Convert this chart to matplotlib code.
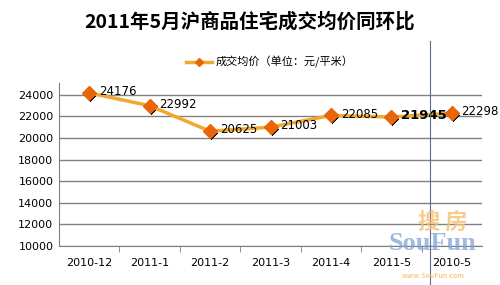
import matplotlib
matplotlib.use("Agg")
import matplotlib.pyplot as plt
import matplotlib.transforms as mtransforms
from matplotlib.lines import Line2D

plt.rcParams['font.family'] = ['Noto Sans CJK SC', 'DejaVu Sans']

categories = ["2010-12", "2011-1", "2011-2", "2011-3", "2011-4", "2011-5", "2010-5"]
values = [24176, 22992, 20625, 21003, 22085, 21945, 22298]
yticks = [10000, 12000, 14000, 16000, 18000, 20000, 22000, 24000]
title = "2011年5月沪商品住宅成交均价同环比"
legend_label = "成交均价（单位：元/平米）"

fig = plt.figure(figsize=(5, 2.85), dpi=100)
ax = fig.add_axes([0.118, 0.137, 0.846, 0.572])

x = list(range(len(categories)))
line_color = "#F0A830"
marker_color = "#E8650A"

# shadow of markers
shadow = mtransforms.offset_copy(ax.transData, fig=fig, x=3, y=-4, units='dots')
ax.plot(x, values, linestyle='none', marker=(2, 2, -45), markersize=6.5,
        markeredgecolor='black', markeredgewidth=2.2, transform=shadow, zorder=3)
ax.plot(x, values, color=line_color, linewidth=2.5, zorder=4)
ax.plot(x, values, linestyle='none', marker='D', markersize=7.5,
        markerfacecolor=marker_color, markeredgecolor=marker_color, zorder=5)

for i, v in enumerate(values):
    ax.annotate(str(v), (i, v), xytext=(7, 1), textcoords='offset points',
                ha='left', va='center', fontsize=9.5 if i == 5 else 8.5,
                family='DejaVu Sans',
                fontweight='bold' if i == 5 else 'normal', zorder=6)

ax.set_xlim(-0.5, len(categories) - 0.5)
ax.set_ylim(10000, 25100)
ax.set_yticks(yticks)
ax.set_yticklabels([str(t) for t in yticks], fontsize=8, family='DejaVu Sans')
ax.set_xticks(x)
ax.set_xticklabels(categories, fontsize=8, family='DejaVu Sans')
ax.set_xticks([i + 0.5 for i in range(len(categories) - 1)], minor=True)
ax.tick_params(axis='x', which='major', length=0, pad=9)
ax.tick_params(axis='x', which='minor', length=4, color='#808080')
ax.tick_params(axis='y', length=0, pad=4)
ax.grid(axis='y', color='#808080', linewidth=1)
ax.set_axisbelow(True)
for s in ['top', 'right']:
    ax.spines[s].set_visible(False)
for s in ['left', 'bottom']:
    ax.spines[s].set_color('#808080')

# vertical separator line
fig.add_artist(Line2D([430 / 500, 430 / 500], [1 - 41 / 285, 0], color='#5A6E8C', linewidth=0.8))

fig.text(0.5, 0.925, title, ha='center', va='center', fontsize=14, fontweight='bold')

# legend
fig.add_artist(Line2D([186 / 500, 212 / 500], [1 - 62 / 285] * 2, color=line_color, linewidth=2.5))
fig.add_artist(Line2D([199 / 500], [1 - 62 / 285], marker='D', markersize=4,
                      color=marker_color, linestyle='none'))
fig.text(216 / 500, 1 - 62 / 285, legend_label, ha='left', va='center', fontsize=8)

# watermark
fig.text(443 / 500, 1 - 222 / 285, "搜 房", ha='center', va='center', fontsize=16,
         color='#F5C070', alpha=0.8, fontweight='bold')
fig.text(433 / 500, 1 - 244 / 285, "SouFun", ha='center', va='center', fontsize=19,
         color='#7FA3D6', alpha=0.75, family='Liberation Serif', fontweight='bold')
fig.text(433 / 500, 1 - 275 / 285, "www.SouFun.com", ha='center', va='center', fontsize=5,
         color='#F5C070', alpha=0.8, fontweight='bold')

fig.savefig("out.png", dpi=100)
